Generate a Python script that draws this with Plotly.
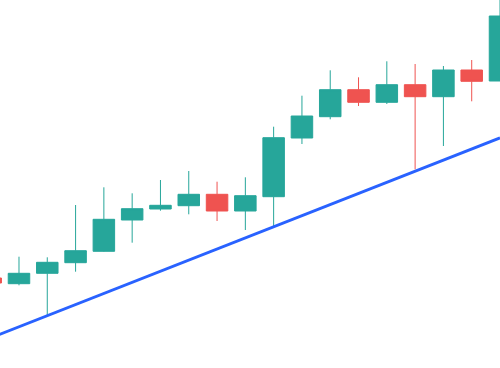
import plotly.graph_objects as go

idx = list(range(19))
opens = [90, 84.3, 94.7, 105.3, 116.7, 148, 159, 162.3, 173.7, 157, 171.3, 230, 251.3, 278.3, 265.7, 283.3, 271.3, 298, 287]
highs = [92, 111.3, 110.7, 163, 180.7, 174.7, 188, 197, 186.3, 190.7, 241.3, 272.3, 297.7, 290.7, 306.7, 304, 302, 308, 372]
lows = [83, 82.7, 52, 96.3, 116.3, 125.3, 157.3, 153.7, 147, 138, 141.3, 224, 248.7, 262, 264, 198.7, 222, 266.7, 287]
closes = [85, 94.7, 105.7, 117.3, 148.7, 159.3, 162.7, 173.7, 157, 172.3, 230.3, 252, 278.3, 265.7, 283.3, 271.3, 298, 286.7, 352]

trend_x = [0, 18]
trend_y = [30.1, 230.2]

fig = go.Figure()
fig.add_trace(go.Candlestick(
    x=idx, open=opens, high=highs, low=lows, close=closes,
    increasing=dict(line=dict(color="#26a69a", width=1), fillcolor="#26a69a"),
    decreasing=dict(line=dict(color="#ef5350", width=1), fillcolor="#ef5350"),
    hoverinfo="skip",
))
fig.add_trace(go.Scatter(x=trend_x, y=trend_y, mode="lines",
                         line=dict(color="#2962ff", width=3), hoverinfo="skip"))

fig.update_layout(
    width=500, height=368,
    margin=dict(l=0, r=0, t=0, b=0),
    paper_bgcolor="white", plot_bgcolor="white",
    showlegend=False,
    boxgap=0.24,
    boxgroupgap=0,
    xaxis=dict(range=[0.329, 18.0], visible=False, rangeslider=dict(visible=False), showgrid=False),
    yaxis=dict(range=[0, 368], visible=False, showgrid=False),
)
fig.write_html("out.html")
